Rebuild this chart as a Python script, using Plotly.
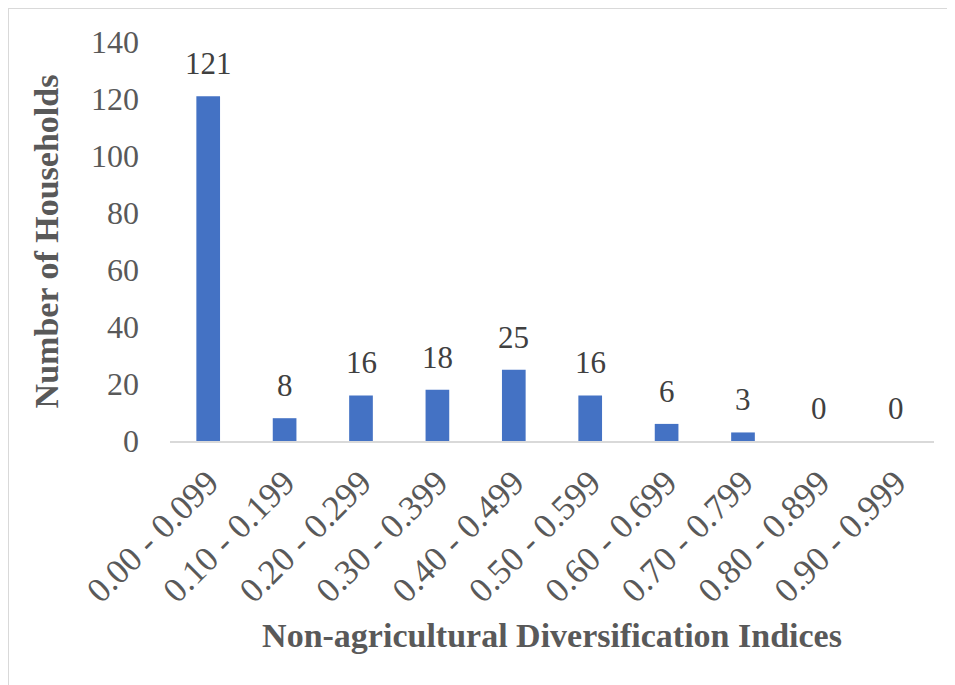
import plotly.graph_objects as go

categories = ["0.00 - 0.099", "0.10 - 0.199", "0.20 - 0.299", "0.30 - 0.399", "0.40 - 0.499",
              "0.50 - 0.599", "0.60 - 0.699", "0.70 - 0.799", "0.80 - 0.899", "0.90 - 0.999"]
households = [121, 8, 16, 18, 25, 16, 6, 3, 0, 0]
y_ticks = [0, 20, 40, 60, 80, 100, 120, 140]

FONT = "Liberation Serif, Times New Roman, serif"

fig = go.Figure(go.Bar(
    x=categories, y=households,
    marker=dict(color="#4472C4", line=dict(width=0)),
))

# page is offset by the 8px body margin
W, H = 947, 677
L, R, T, B = 162, 21, 34, 244
pw, ph = W - L - R, H - T - B

def px(x):
    return (x - L) / pw

def py(y):
    return (H - B - y) / ph

annotations = [
    dict(x=c, y=v, xref="x", yref="y", text=str(v), showarrow=False,
         yanchor="bottom", yshift=13,
         font=dict(family=FONT, size=31, color="#404040"))
    for c, v in zip(categories, households)
]

fig.update_layout(
    width=W, height=H,
    margin=dict(l=L, r=R, t=T, b=B),
    paper_bgcolor="white", plot_bgcolor="white",
    bargap=0.69,
    showlegend=False,
    font=dict(family=FONT, color="#595959"),
    annotations=annotations,
    xaxis=dict(
        tickangle=-45, tickfont=dict(family=FONT, size=35, color="#595959"),
        showline=True, linecolor="#d9d9d9", linewidth=2,
        showgrid=False, ticks="", ticklabelstandoff=5,
        title=dict(text="<b>Non-agricultural Diversification Indices</b>",
                   font=dict(family=FONT, size=34, color="#595959"), standoff=14),
    ),
    yaxis=dict(
        range=[0, 140], tickvals=y_ticks,
        tickfont=dict(family=FONT, size=32, color="#595959"),
        showline=False, showgrid=False, zeroline=False, ticks="",
        ticklabelstandoff=30,
        title=dict(text="<b>Number of Households</b>",
                   font=dict(family=FONT, size=34, color="#595959"), standoff=22),
    ),
    shapes=[
        dict(type="line", xref="paper", yref="paper", x0=px(0), x1=px(W + 5), y0=py(0), y1=py(0),
             line=dict(color="#d9d9d9", width=2)),
        dict(type="line", xref="paper", yref="paper", x0=px(0), x1=px(0), y0=py(0), y1=py(H + 5),
             line=dict(color="#d9d9d9", width=2)),
    ],
)

fig.write_html("out.html")
